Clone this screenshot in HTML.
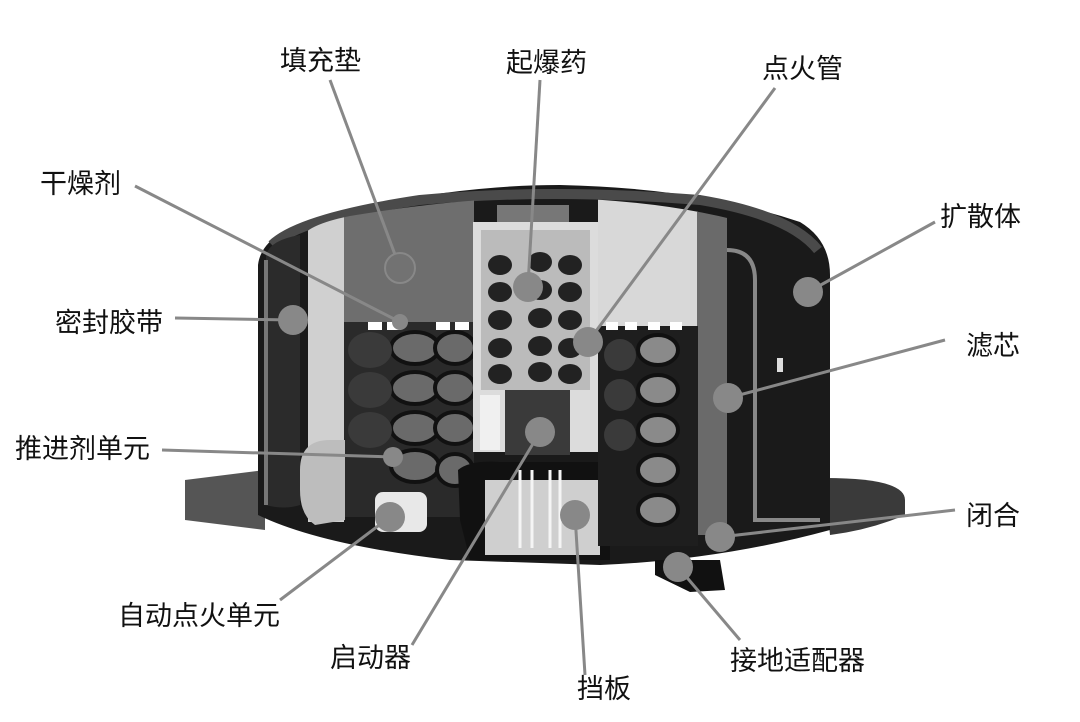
<!DOCTYPE html>
<html><head><meta charset="utf-8"><style>
html,body{margin:0;padding:0;background:#fff;width:1080px;height:722px;overflow:hidden}
text{font-family:"Liberation Sans","Noto Sans CJK SC",sans-serif;font-size:27px;fill:#111}
</style></head><body>
<svg width="1080" height="722" viewBox="0 0 1080 722">
<defs>
<clipPath id="inn"><path d="M300 240 Q305 225 350 216 Q470 196 560 198 Q700 202 792 238 L792 600 L300 600 Z"/></clipPath>
</defs>
<!-- flanges -->
<path d="M185 480 L265 470 L265 530 L185 520 Z" fill="#555"/>
<path d="M825 478 Q905 478 905 500 L905 515 Q870 530 830 535 Z" fill="#3a3a3a"/>
<!-- outer housing -->
<path d="M258 265 Q262 230 330 215 Q450 185 560 185 Q700 188 800 222 Q830 240 830 275 L830 530 Q720 560 600 565 L450 560 Q320 545 258 515 Z" fill="#1a1a1a"/>
<path d="M272 245 Q300 218 420 200 Q550 188 700 200 Q790 215 818 250" stroke="#4a4a4a" stroke-width="10" fill="none"/>
<!-- left inner wall -->
<path d="M266 255 Q270 240 300 235 L300 505 Q285 510 265 505 Z" fill="#2b2b2b"/>
<path d="M266 260 L266 505" stroke="#777" stroke-width="4"/>
<g clip-path="url(#inn)">
<rect x="308" y="200" width="36" height="322" fill="#d0d0d0"/>
<rect x="344" y="190" width="130" height="132" fill="#6e6e6e"/>
<rect x="344" y="322" width="130" height="195" fill="#2a2a2a"/>
<rect x="598" y="190" width="100" height="136" fill="#d8d8d8"/>
<rect x="697" y="190" width="30" height="345" fill="#6a6a6a"/>
</g>
<path d="M300 470 Q300 440 330 440 L345 440 L345 520 L315 525 Q300 515 300 490Z" fill="#bdbdbd"/>
<g fill="#6a6a6a" stroke="#111" stroke-width="4">
<ellipse cx="415" cy="348" rx="24" ry="16"/><ellipse cx="455" cy="348" rx="20" ry="16"/>
<ellipse cx="415" cy="388" rx="24" ry="16"/><ellipse cx="455" cy="388" rx="20" ry="16"/>
<ellipse cx="415" cy="428" rx="24" ry="16"/><ellipse cx="455" cy="428" rx="20" ry="16"/>
<ellipse cx="415" cy="466" rx="24" ry="16"/><ellipse cx="455" cy="470" rx="18" ry="16"/>
</g>
<g fill="#3a3a3a"><ellipse cx="370" cy="350" rx="22" ry="18"/><ellipse cx="370" cy="390" rx="22" ry="18"/><ellipse cx="370" cy="430" rx="22" ry="18"/></g>
<g fill="#fff"><rect x="368" y="322" width="14" height="8"/><rect x="387" y="322" width="14" height="8"/><rect x="436" y="322" width="14" height="8"/><rect x="455" y="322" width="14" height="8"/></g>
<rect x="375" y="492" width="52" height="40" rx="8" fill="#e8e8e8"/>
<!-- center tube -->
<rect x="497" y="205" width="72" height="18" fill="#777"/>
<rect x="473" y="222" width="125" height="230" fill="#dcdcdc"/>
<rect x="481" y="230" width="109" height="160" fill="#bbb"/>
<g fill="#222">
<ellipse cx="500" cy="265" rx="12" ry="10"/><ellipse cx="540" cy="262" rx="12" ry="10"/><ellipse cx="570" cy="265" rx="12" ry="10"/>
<ellipse cx="500" cy="292" rx="12" ry="10"/><ellipse cx="540" cy="290" rx="12" ry="10"/><ellipse cx="570" cy="292" rx="12" ry="10"/>
<ellipse cx="500" cy="320" rx="12" ry="10"/><ellipse cx="540" cy="318" rx="12" ry="10"/><ellipse cx="570" cy="320" rx="12" ry="10"/>
<ellipse cx="500" cy="348" rx="12" ry="10"/><ellipse cx="540" cy="346" rx="12" ry="10"/><ellipse cx="570" cy="348" rx="12" ry="10"/>
<ellipse cx="500" cy="374" rx="12" ry="10"/><ellipse cx="540" cy="372" rx="12" ry="10"/><ellipse cx="570" cy="374" rx="12" ry="10"/>
</g>
<rect x="505" y="390" width="65" height="65" fill="#3a3a3a"/>
<rect x="480" y="395" width="20" height="55" fill="#f0f0f0"/>
<path d="M458 470 Q470 460 500 462 L600 462 Q610 470 610 500 L610 560 L470 560 L460 520Z" fill="#111"/>
<rect x="485" y="480" width="115" height="75" fill="#cfcfcf"/>
<g stroke="#f5f5f5" stroke-width="3"><line x1="520" y1="470" x2="520" y2="548"/><line x1="532" y1="470" x2="532" y2="548"/><line x1="550" y1="470" x2="550" y2="548"/><line x1="560" y1="470" x2="560" y2="548"/></g>
<rect x="598" y="326" width="100" height="220" fill="#1e1e1e"/>
<g fill="#fff"><rect x="606" y="322" width="12" height="8"/><rect x="625" y="322" width="12" height="8"/><rect x="648" y="322" width="12" height="8"/><rect x="670" y="322" width="12" height="8"/></g>
<g fill="#8a8a8a" stroke="#111" stroke-width="4">
<ellipse cx="658" cy="350" rx="20" ry="15"/><ellipse cx="658" cy="390" rx="20" ry="15"/><ellipse cx="658" cy="430" rx="20" ry="15"/><ellipse cx="658" cy="470" rx="20" ry="15"/><ellipse cx="658" cy="510" rx="20" ry="15"/>
</g>
<g fill="#3a3a3a"><ellipse cx="620" cy="355" rx="16" ry="16"/><ellipse cx="620" cy="395" rx="16" ry="16"/><ellipse cx="620" cy="435" rx="16" ry="16"/></g>
<path d="M727 250 Q755 250 755 280 L755 520 L820 520" stroke="#888" stroke-width="4" fill="none"/>
<rect x="777" y="358" width="6" height="14" fill="#ddd"/>
<path d="M655 560 L720 560 L725 590 L690 592 L655 575Z" fill="#111"/>
<!-- leader lines -->
<g stroke="#888" stroke-width="3" fill="none">
<line x1="330" y1="80" x2="400" y2="268"/>
<line x1="540" y1="80" x2="528" y2="285"/>
<line x1="775" y1="88" x2="588" y2="342"/>
<line x1="135" y1="186" x2="400" y2="322"/>
<line x1="935" y1="222" x2="808" y2="292"/>
<line x1="175" y1="318" x2="293" y2="320"/>
<line x1="945" y1="340" x2="728" y2="398"/>
<line x1="162" y1="450" x2="393" y2="457"/>
<line x1="955" y1="510" x2="720" y2="537"/>
<line x1="280" y1="600" x2="390" y2="517"/>
<line x1="412" y1="645" x2="540" y2="432"/>
<line x1="585" y1="675" x2="575" y2="515"/>
<line x1="740" y1="640" x2="678" y2="567"/>
</g>
<g fill="#888">
<circle cx="400" cy="268" r="15" fill="#727272" stroke="#888" stroke-width="2"/>
<circle cx="528" cy="287" r="15"/><circle cx="588" cy="342" r="15"/><circle cx="808" cy="292" r="15"/>
<circle cx="293" cy="320" r="15"/><circle cx="728" cy="398" r="15"/><circle cx="720" cy="537" r="15"/>
<circle cx="390" cy="517" r="15"/><circle cx="540" cy="432" r="15"/><circle cx="575" cy="515" r="15"/>
<circle cx="678" cy="567" r="15"/><circle cx="400" cy="322" r="8"/><circle cx="393" cy="457" r="10"/>
</g>
<text x="280" y="70">填充垫</text>
<text x="506" y="72">起爆药</text>
<text x="762" y="78">点火管</text>
<text x="40" y="193">干燥剂</text>
<text x="940" y="226">扩散体</text>
<text x="55" y="332">密封胶带</text>
<text x="966" y="355">滤芯</text>
<text x="15" y="458">推进剂单元</text>
<text x="966" y="525">闭合</text>
<text x="118" y="625">自动点火单元</text>
<text x="330" y="667">启动器</text>
<text x="577" y="698">挡板</text>
<text x="730" y="670">接地适配器</text>
</svg>
</body></html>
